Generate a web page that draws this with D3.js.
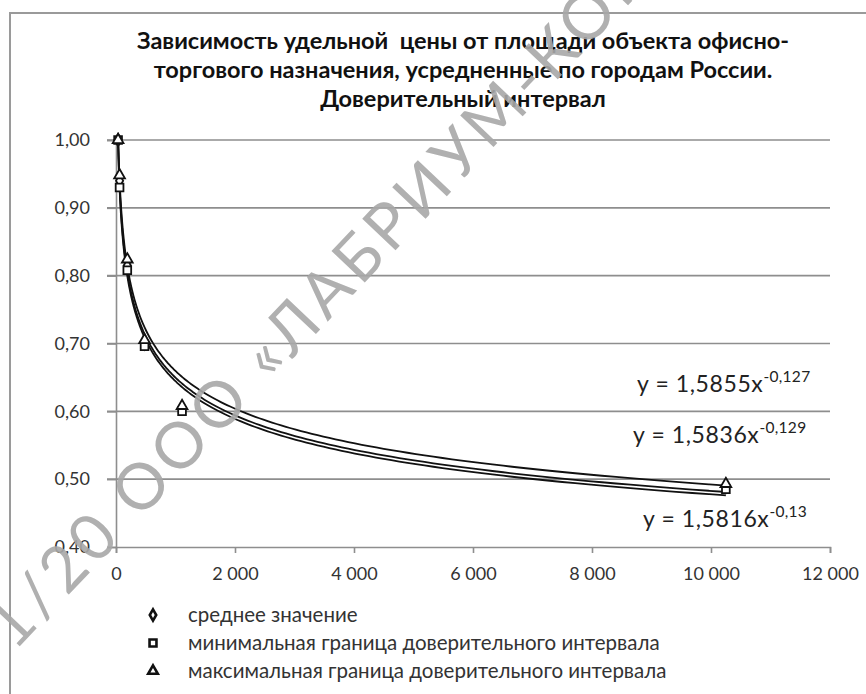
<!DOCTYPE html>
<html>
<head>
<meta charset="utf-8">
<script src="https://cdn.jsdelivr.net/npm/d3@7"></script>
<style>
  body { margin: 0; background: #fff; }
  text { font-family: Lato, "Open Sans", sans-serif; white-space: pre; }
</style>
</head>
<body>
<script>
// data
var area     = [35, 60, 190, 480, 1110, 10250];
var meanVals = [1.00, 0.940, 0.815, 0.700, 0.605, 0.489];
var minVals  = [1.00, 0.930, 0.808, 0.696, 0.600, 0.485];
var maxVals  = [1.00, 0.948, 0.824, 0.705, 0.608, 0.493];

// trend lines y = a * x^b (max, mean, min)
var trendA = [1.5855, 1.5836, 1.5816];
var trendB = [-0.127, -0.129, -0.13];
var eqMain = ["y = 1,5855x", "y = 1,5836x", "y = 1,5816x"];
var eqPow  = ["-0,127", "-0,129", "-0,13"];

var xTicks = [0, 2000, 4000, 6000, 8000, 10000, 12000];
var yTicks = [0.4, 0.5, 0.6, 0.7, 0.8, 0.9, 1.0];

var titleLines = [
  "Зависимость удельной  цены от площади объекта офисно-",
  "торгового назначения, усредненные по городам России.",
  "Доверительный интервал"
];
var legendNames = [
  "среднее значение",
  "минимальная граница доверительного интервала",
  "максимальная граница доверительного интервала"
];

var W = 866, H = 694;
var ru = d3.formatLocale({decimal: ",", thousands: "\u00a0", grouping: [3], currency: ["", ""]});

var svg = d3.select("body").append("svg").attr("width", W).attr("height", H);
svg.append("rect").attr("width", W).attr("height", H).attr("fill", "#fff");

// outer chart frame (only top and left edges visible)
svg.append("rect").attr("x", 10).attr("y", 13).attr("width", W + 20).attr("height", H + 20)
  .attr("fill", "none").attr("stroke", "#9a9a9a").attr("stroke-width", 2);

var x = d3.scaleLinear().domain([0, 12000]).range([116, 830]);
var y = d3.scaleLinear().domain([0.4, 1.0]).range([547, 140]);

// title
svg.append("g").selectAll("text").data(titleLines).enter().append("text")
  .attr("x", 463).attr("y", function(d, i) { return 49 + i * 29; })
  .attr("text-anchor", "middle").attr("font-weight", "bold").attr("font-size", 23.5)
  .attr("fill", "#111").text(function(d) { return d; });

// horizontal gridlines
svg.append("g").selectAll("line").data(yTicks.slice(1)).enter().append("line")
  .attr("x1", 107).attr("x2", x(12000))
  .attr("y1", function(d) { return y(d); }).attr("y2", function(d) { return y(d); })
  .attr("stroke", "#8e8e8e").attr("stroke-width", 1.6);

// y axis
var yAxis = svg.append("g").attr("transform", "translate(" + x(0) + ",0)")
  .call(d3.axisLeft(y).tickValues(yTicks).tickSize(9).tickFormat(ru.format(",.2f")));
yAxis.select(".domain").attr("stroke", "#8e8e8e").attr("stroke-width", 1.6);
yAxis.selectAll(".tick line").attr("stroke", "#8e8e8e").attr("stroke-width", 1.6);
yAxis.selectAll(".tick text").attr("font-family", "Lato").attr("font-size", 18)
  .attr("fill", "#333").attr("x", -26);

// x axis
var xAxis = svg.append("g").attr("transform", "translate(0," + y(0.4) + ")")
  .call(d3.axisBottom(x).tickValues(xTicks).tickSize(6).tickSizeOuter(6).tickFormat(ru.format(",.0f")));
xAxis.select(".domain").attr("stroke", "#8e8e8e").attr("stroke-width", 1.6);
xAxis.selectAll(".tick line").attr("stroke", "#8e8e8e").attr("stroke-width", 1.6);
xAxis.selectAll(".tick text").attr("font-family", "Lato").attr("font-size", 18)
  .attr("fill", "#333").attr("y", 20);

// trend lines, drawn over the span of the data
var line = d3.line().x(function(d) { return x(d[0]); }).y(function(d) { return y(d[1]); }).curve(d3.curveBasis);
var x0 = area[0], x1 = area[area.length - 1];
trendA.forEach(function(a, k) {
  var pts = d3.range(0, 201).map(function(i) {
    var xv = x0 * Math.pow(x1 / x0, i / 200);
    return [xv, a * Math.pow(xv, trendB[k])];
  });
  svg.append("path").datum(pts).attr("d", line)
    .attr("fill", "none").attr("stroke", "#111").attr("stroke-width", 1.8);
});

// markers
var series = [
  {vals: meanVals, sym: d3.symbolDiamond, size: 45},
  {vals: minVals, sym: d3.symbolSquare, size: 60},
  {vals: maxVals, sym: d3.symbolTriangle, size: 50}
];
series.forEach(function(s) {
  svg.append("g").selectAll("path").data(s.vals).enter().append("path")
    .attr("d", d3.symbol().type(s.sym).size(s.size))
    .attr("transform", function(d, i) { return "translate(" + x(area[i]) + "," + y(d) + ")"; })
    .attr("fill", "#fff").attr("stroke", "#111").attr("stroke-width", 1.8);
});

// trend equations
var eqPos = [[637, 392], [633, 443], [643, 527]];
eqMain.forEach(function(t, i) {
  var tx = svg.append("text").attr("x", eqPos[i][0]).attr("y", eqPos[i][1])
    .attr("font-size", 23).attr("letter-spacing", 0.6).attr("fill", "#222");
  tx.append("tspan").text(t);
  tx.append("tspan").attr("dy", -10).attr("font-size", 15.5).attr("letter-spacing", 0.3).text(eqPow[i]);
});

// legend
var lg = svg.append("g").selectAll("g").data(legendNames).enter().append("g")
  .attr("transform", function(d, i) { return "translate(153," + (615 + i * 28) + ")"; });
lg.append("path")
  .attr("d", function(d, i) { return d3.symbol().type(series[i].sym).size(series[i].size * 0.8)(); })
  .attr("fill", "#fff").attr("stroke", "#111").attr("stroke-width", 2.6);
lg.append("text").attr("x", 35).attr("y", 7).attr("font-size", 20.5).attr("fill", "#333")
  .text(function(d) { return d; });

// watermark
svg.append("text")
  .attr("transform", "translate(10,623) rotate(-46.5)")
  .attr("x", -18).attr("dy", "0.36em")
  .attr("font-family", "Noto Sans").attr("font-size", 64).attr("letter-spacing", 5)
  .attr("fill", "#a8a8a8").attr("opacity", 0.9)
  .text("1/20 ООО «ЛАБРИУМ-КОНСАЛТИНГ»");
</script>
</body>
</html>
